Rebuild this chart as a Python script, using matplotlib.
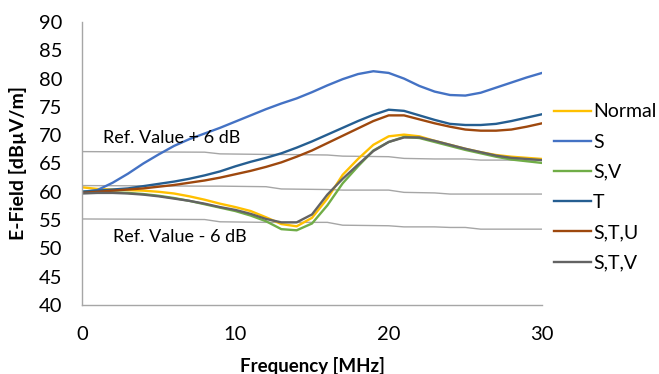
import numpy as np
import matplotlib
matplotlib.use('Agg')
import matplotlib.pyplot as plt

plt.rcParams['font.family'] = ['Lato', 'DejaVu Sans']

freq = np.arange(0, 31)

normal = [60.8, 60.5, 60.4, 60.3, 60.2, 60.0, 59.7, 59.2, 58.6, 57.9, 57.3, 56.6, 55.5, 54.3, 53.9,
          55.4, 58.8, 63.0, 65.8, 68.3, 69.8, 70.1, 69.8, 69.0, 68.3, 67.6, 67.0, 66.5, 66.2, 66.0, 65.8]
s = [60.0, 60.3, 61.6, 63.2, 65.0, 66.6, 68.1, 69.3, 70.3, 71.3, 72.4, 73.5, 74.6, 75.6, 76.5,
     77.6, 78.8, 79.9, 80.8, 81.3, 81.0, 80.0, 78.7, 77.7, 77.1, 77.0, 77.5, 78.4, 79.3, 80.2, 81.0]
s_v = [60.0, 60.0, 59.9, 59.8, 59.6, 59.3, 58.9, 58.4, 57.8, 57.2, 56.6, 55.8, 54.8, 53.4, 53.2,
       54.4, 57.6, 61.5, 64.5, 67.3, 68.8, 69.7, 69.5, 68.8, 68.1, 67.4, 66.8, 66.2, 65.7, 65.4, 65.1]
t = [60.0, 60.2, 60.4, 60.6, 61.0, 61.4, 61.8, 62.3, 62.9, 63.6, 64.5, 65.3, 66.0, 66.8, 67.8,
     68.9, 70.1, 71.3, 72.5, 73.6, 74.5, 74.3, 73.5, 72.7, 72.0, 71.8, 71.8, 72.0, 72.5, 73.1, 73.7]
s_t_u = [59.8, 60.0, 60.2, 60.4, 60.6, 60.9, 61.2, 61.6, 62.0, 62.5, 63.1, 63.7, 64.4, 65.2, 66.2,
         67.3, 68.6, 69.9, 71.2, 72.5, 73.5, 73.5, 72.8, 72.1, 71.5, 71.0, 70.8, 70.8, 71.0, 71.5, 72.1]
s_t_v = [59.7, 59.8, 59.8, 59.7, 59.5, 59.2, 58.8, 58.4, 57.9, 57.3, 56.8, 56.1, 55.2, 54.6, 54.6,
         56.0, 59.5, 62.3, 64.8, 67.2, 68.8, 69.6, 69.6, 69.0, 68.3, 67.6, 67.0, 66.4, 66.0, 65.8, 65.6]

ref_freq = [0, 8, 9, 12, 13, 16, 17, 20, 21, 23, 24, 25, 26, 30]
ref_plus = [67.1, 67.0, 66.7, 66.6, 66.6, 66.5, 66.3, 66.2, 65.9, 65.8, 65.8, 65.8, 65.6, 65.6]
ref_mid = [61.1, 61.0, 61.0, 60.9, 60.5, 60.4, 60.3, 60.3, 59.9, 59.8, 59.6, 59.6, 59.6, 59.6]
ref_minus = [55.2, 55.1, 54.7, 54.6, 54.6, 54.6, 54.1, 54.0, 53.8, 53.8, 53.7, 53.7, 53.4, 53.4]

series = [('Normal', normal, '#FFC000'), ('S', s, '#4472C4'), ('S,V', s_v, '#70AD47'),
          ('T', t, '#255E91'), ('S,T,U', s_t_u, '#9E480E'), ('S,T,V', s_t_v, '#636363')]

fig = plt.figure(figsize=(6.59, 3.74), dpi=100)
ax = fig.add_axes([0.1244, 0.1845, 0.6981, 0.7567])

for ref in (ref_plus, ref_mid, ref_minus):
    ax.plot(ref_freq, ref, color='#A6A6A6', lw=1.0, zorder=1)

for name, vals, col in series:
    ax.plot(freq, vals, color=col, lw=1.7, label=name, zorder=2)

ax.set_xlim(0, 30)
ax.set_ylim(40, 90)
ax.set_xticks([0, 10, 20, 30])
ax.set_yticks(range(40, 91, 5))
ax.tick_params(length=0, labelsize=14.5)
ax.tick_params(axis='y', pad=14)
ax.tick_params(axis='x', pad=15)
for side in ('top', 'right'):
    ax.spines[side].set_visible(False)
for side in ('left', 'bottom'):
    ax.spines[side].set_color('#A6A6A6')
    ax.spines[side].set_linewidth(1.0)

ax.text(1.4, 69.5, 'Ref. Value + 6 dB', fontsize=13, va='center', ha='left')
ax.text(2.0, 52.0, 'Ref. Value - 6 dB', fontsize=13, va='center', ha='left')

ax.set_ylabel('E-Field [dBµV/m]', fontsize=14, fontweight='bold', labelpad=9)
ax.set_xlabel('Frequency [MHz]', fontsize=13.5, fontweight='bold', labelpad=10)

ax.legend(loc='upper left', bbox_to_anchor=(1.005, 0.747), frameon=False, fontsize=14,
          handlelength=1.9, handletextpad=0.1, labelspacing=0.68, borderaxespad=0.3,
          borderpad=0.2)

fig.savefig('out.png', dpi=100)
